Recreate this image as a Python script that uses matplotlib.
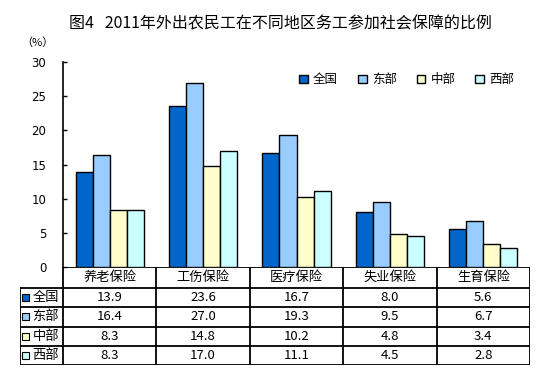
import numpy as np
import matplotlib
matplotlib.use('Agg')
import matplotlib.pyplot as plt
from matplotlib.transforms import blended_transform_factory
from matplotlib.patches import Rectangle

plt.rcParams['font.family'] = ['Noto Sans CJK SC', 'DejaVu Sans']

categories = ['养老保险', '工伤保险', '医疗保险', '失业保险', '生育保险']
regions = ['全国', '东部', '中部', '西部']
quanguo = [13.9, 23.6, 16.7, 8.0, 5.6]
dongbu = [16.4, 27.0, 19.3, 9.5, 6.7]
zhongbu = [8.3, 14.8, 10.2, 4.8, 3.4]
xibu = [8.3, 17.0, 11.1, 4.5, 2.8]
colors = ['#0066CC', '#99CCFF', '#FFFFCC', '#CCFFFF']
series = [quanguo, dongbu, zhongbu, xibu]

W, H = 557, 375
fig = plt.figure(figsize=(W / 100, H / 100), dpi=100)

# plot area in pixels
px_l, px_r, px_t, px_b = 63, 530, 62, 267
tab_l, tab_b = 20, 365

ax = fig.add_axes([px_l / W, 1 - px_b / H, (px_r - px_l) / W, (px_b - px_t) / H])
x = np.arange(len(categories))
bw = 0.183
for i, (vals, c) in enumerate(zip(series, colors)):
    ax.bar(x + (i - 1.5) * bw, vals, bw, color=c, edgecolor='black', linewidth=1.0,
           label=regions[i], zorder=3)
ax.set_xlim(-0.5, len(categories) - 0.5)
ax.set_ylim(0, 30)
ax.set_yticks(range(0, 31, 5))
ax.tick_params(axis='y', direction='in', length=3, width=1, labelsize=9, pad=12)
ax.set_xticks([])
for s in ['top', 'right', 'bottom']:
    ax.spines[s].set_visible(False)
ax.spines['left'].set_linewidth(1.2)
for lab in ax.get_yticklabels():
    lab.set_family('DejaVu Sans')
    lab.set_fontsize(8.5)

ax.text(-0.054, 1.093, '（%）', transform=ax.transAxes, fontsize=8, ha='center', va='center')

leg = ax.legend(loc='upper right', bbox_to_anchor=(0.99, 1.0), ncol=4, frameon=False,
                fontsize=9, handlelength=0.7, handleheight=0.7, handletextpad=0.4,
                columnspacing=1.6)

fig.text(0.503, 1 - 24 / H, '图4   2011年外出农民工在不同地区务工参加社会保障的比例',
         ha='center', va='center', fontsize=11.5, fontweight='medium')

# data table below the chart
tab = fig.add_axes([tab_l / W, 1 - tab_b / H, (px_r - tab_l) / W, (tab_b - px_b) / H])
tab.set_xlim(0, 1)
tab.set_ylim(0, 1)
tab.axis('off')
tr = blended_transform_factory(ax.transData, tab.transAxes)
row_h = (tab_b - px_b)
head = 21 / row_h
drow = (1 - head) / 4
lw = 1.3
# horizontal lines
tab.plot([(px_l - tab_l) / (px_r - tab_l), 1], [1, 1], color='black', lw=lw)
for k in range(5):
    yy = drow * k
    tab.plot([0, 1], [yy, yy], color='black', lw=lw)
# vertical lines
tab.plot([0, 0], [0, drow * 4], color='black', lw=lw)
for b in np.arange(len(categories) + 1) - 0.5:
    tab.plot([b, b], [0, 1], color='black', lw=lw, transform=tr)

for j, cat in enumerate(categories):
    tab.text(j, 1 - head / 2, cat, transform=tr, ha='center', va='center', fontsize=9.5)
for i, vals in enumerate(series):
    yc = drow * (3 - i) + drow / 2
    tab.add_patch(Rectangle((2 / (px_r - tab_l), yc - 0.035), 6.5 / (px_r - tab_l), 0.07,
                            facecolor=colors[i], edgecolor='black', lw=0.8))
    tab.text(12.5 / (px_r - tab_l), yc, regions[i], ha='left', va='center', fontsize=9.5)
    for j, v in enumerate(vals):
        tab.text(j, yc, '%.1f' % v, transform=tr, ha='center', va='center', fontsize=9.5)

fig.savefig('out.png', dpi=100)
